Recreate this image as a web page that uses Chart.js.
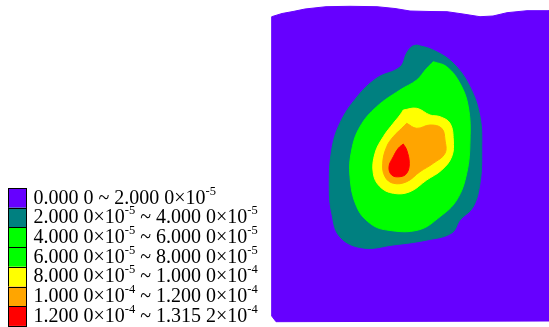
<!DOCTYPE html>
<html>
<head>
<meta charset="utf-8">
<script src="https://cdn.jsdelivr.net/npm/chart.js@4.4.1/dist/chart.umd.min.js"></script>
<style>
    html, body { margin: 0; padding: 0; background: #fff; }
    #wrap { position: relative; width: 549px; height: 327px; }
</style>
</head>
<body>
<div id="wrap"><canvas id="chart" width="549" height="327"></canvas></div>
<script>
// contour bands, outlines in plot units (x right, y down)
const purpleEdge = [[271.7,16.7],[282,13.5],[293,11.5],[305,9],[326,6.7],[350,6.3],[377,6.7],[395,8.5],[410,11],[430,11.5],[447,11.7],[463,14],[480,16.7],[493,16],[507,12.7],[527,10.7],[549,10.7],
    [549,321],[276,321.7],[271.7,316],[271.7,16.7]];
const tealEdge = [[416.7,45],[433,50],[453,63],[470,87],[480,117],[481.7,150],[480,183],[473,207],[460,220],[451.7,233],[427,240],[393,245],[363,248],[340,237],[331.7,213],[329.3,187],[331.7,150],[340,123],[357,97],[377,78],[400,67],[406.7,53],[411.7,46.7],[416.7,45]];
const greenEdge = [[433.3,61.7],[446.7,66.7],[460,83.3],[468.3,106.7],[470,140],[466.7,173.3],[456.7,200],[440,216.7],[418.3,230],[386.7,230],[370,223.3],[356.7,206.7],[350,176.7],[351.7,150],[360,126.7],[376.7,106.7],[400,90],[416.7,80],[426.7,68.3],[433.3,61.7]];
const yellowEdge = [[403.3,110],[416.7,108.3],[430,115],[440,116.7],[450,123.3],[453.3,140],[451.7,156.7],[441.7,170],[426.7,180],[410,191.7],[393.3,193.3],[380,186.7],[373.3,173.3],[375,153.3],[383.3,136.7],[393.3,123.3],[400,115],[403.3,110]];
const orangeEdge = [[406.7,123.3],[416.7,128.3],[430,125],[441.7,128.3],[445,140],[445,153.3],[433.3,163.3],[420,171.7],[406.7,181.7],[393.3,183.3],[385,176.7],[382.7,163.3],[386.7,146.7],[393.3,136.7],[401.7,128.3],[406.7,123.3]];
const redEdge = [[403.3,144],[406.7,150],[409.3,163.3],[406.7,173.3],[400,176.7],[391.7,175],[389,166.7],[393.3,156.7],[398.3,148.3],[403.3,144]];

// legend levels
const levelMant = ['0.000 0', '2.000 0', '4.000 0', '6.000 0', '8.000 0', '1.000 0', '1.200 0', '1.315 2'];
const levelExp = [null, -5, -5, -5, -5, -4, -4, -4];
const bandColors = ['#6600ff', '#008080', '#00ff00', '#00ff00', '#ffff00', '#ffa500', '#ff0000'];

const toPts = (edge) => edge.map(p => ({ x: p[0], y: p[1] }));

const band = (edge, color, tension) => ({
    data: toPts(edge),
    showLine: true,
    fill: 'shape',
    backgroundColor: color,
    borderColor: color,
    borderWidth: 1,
    pointRadius: 0,
    tension: tension
});

// drawn last-to-first, so innermost band goes first
const datasets = [
    band(redEdge, bandColors[6], 0.4),
    band(orangeEdge, bandColors[5], 0.4),
    band(yellowEdge, bandColors[4], 0.4),
    band(greenEdge, bandColors[2], 0.4),
    band(tealEdge, bandColors[1], 0.4),
    band(purpleEdge, bandColors[0], 0)
];

const legendPlugin = {
    id: 'bandLegend',
    afterDraw(chart) {
        const ctx = chart.ctx;
        const boxX = 8, boxW = 18, top = 188, rowH = 19.7;
        const font = '20px "Liberation Serif", "Times New Roman", serif';
        const supFont = '12.5px "Liberation Serif", "Times New Roman", serif';
        ctx.save();
        ctx.textBaseline = 'alphabetic';
        for (let i = 0; i < bandColors.length; i++) {
            const y = top + i * rowH;
            ctx.fillStyle = bandColors[i];
            ctx.fillRect(boxX, y, boxW, rowH);
            ctx.strokeStyle = '#000';
            ctx.lineWidth = 1;
            ctx.strokeRect(boxX + 0.5, Math.round(y) + 0.5, boxW, Math.round(rowH));

            let x = 33.5;
            const base = y + 15.5;
            const put = (txt, f, dy) => {
                ctx.font = f;
                ctx.fillStyle = '#000';
                ctx.fillText(txt, x, base + dy);
                x += ctx.measureText(txt).width;
            };
            const level = (k) => {
                put(levelMant[k], font, 0);
                if (levelExp[k] !== null) {
                    put('\u00d710', font, 0);
                    put('-' + Math.abs(levelExp[k]), supFont, -9);
                }
            };
            level(i);
            put(' ~ ', font, 0);
            level(i + 1);
        }
        ctx.restore();
    }
};

new Chart(document.getElementById('chart').getContext('2d'), {
    type: 'scatter',
    data: { datasets },
    options: {
        responsive: false,
        animation: false,
        layout: { padding: 0 },
        scales: {
            x: { type: 'linear', min: 0, max: 549, display: false },
            y: { type: 'linear', min: 0, max: 327, reverse: true, display: false }
        },
        plugins: {
            legend: { display: false },
            tooltip: { enabled: false }
        }
    },
    plugins: [legendPlugin]
});
</script>
</body>
</html>
